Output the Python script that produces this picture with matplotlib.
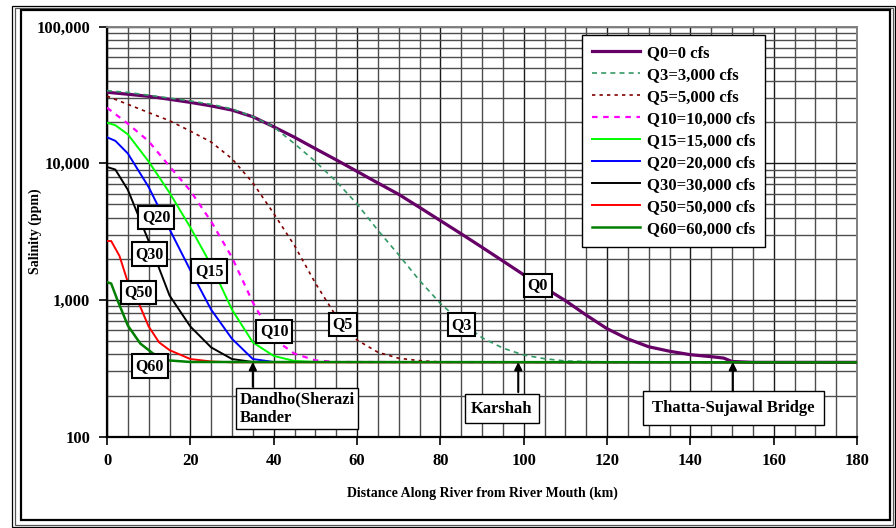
import matplotlib.pyplot as plt
from matplotlib.patches import Rectangle
from matplotlib.ticker import LogLocator, FuncFormatter, MultipleLocator, NullFormatter

plt.rcParams['font.family'] = 'Liberation Serif'
plt.rcParams['font.weight'] = 'bold'

# salinity profiles: distance (km) and salinity (ppm)
km_q0 = [0, 5, 10, 15, 20, 25, 30, 35, 40, 45, 50, 55, 60, 65, 70, 75, 80, 85, 90, 95,
         100, 105, 110, 115, 120, 125, 130, 135, 140, 145, 148, 150, 155, 180]
sal_q0 = [33100, 32000, 30900, 29400, 27900, 26300, 24500, 21900, 18500, 15500, 12800,
          10600, 8730, 7180, 5930, 4760, 3810, 3050, 2430, 1930, 1530, 1230, 990, 776,
          617, 519, 455, 422, 398, 385, 376, 355, 350, 350]

km_q3 = [0, 5, 10, 15, 20, 25, 30, 35, 40, 45, 50, 55, 60, 65, 70, 75, 80, 85, 90, 95,
         100, 105, 110, 120, 180]
sal_q3 = [34000, 33000, 31500, 30000, 28600, 27000, 25000, 22000, 18500, 13900, 10300,
          7380, 5050, 3240, 2140, 1390, 945, 690, 530, 445, 396, 372, 358, 352, 350]

km_q5 = [0, 5, 10, 15, 20, 25, 30, 35, 40, 45, 50, 55, 60, 65, 70, 75, 80, 180]
sal_q5 = [31000, 27000, 23500, 20500, 17200, 14300, 10800, 7200, 4300, 2500, 1330, 760,
          510, 415, 375, 360, 352, 350]

km_q10 = [0, 5, 10, 15, 20, 25, 30, 35, 40, 45, 50, 55, 180]
sal_q10 = [25500, 19500, 14500, 9500, 6300, 3750, 2050, 960, 520, 405, 362, 352, 350]

km_q15 = [0, 2, 5, 10, 15, 20, 25, 30, 35, 40, 45, 50, 180]
sal_q15 = [19800, 19000, 16300, 10300, 6100, 3400, 1800, 850, 490, 390, 358, 352, 350]

km_q20 = [0, 2, 5, 10, 15, 20, 25, 30, 35, 40, 180]
sal_q20 = [15500, 14600, 11800, 6700, 3300, 1650, 850, 520, 370, 352, 350]

km_q30 = [0, 2, 5, 10, 15, 20, 25, 30, 35, 180]
sal_q30 = [9400, 9000, 6400, 2700, 1080, 640, 450, 370, 352, 350]

km_q50 = [0, 1, 3, 5, 7, 10, 12.5, 15, 20, 25, 30, 180]
sal_q50 = [2700, 2700, 2100, 1350, 1050, 640, 490, 430, 370, 355, 350, 350]

km_q60 = [0, 1, 2.5, 5, 8, 11, 14, 20, 180]
sal_q60 = [1350, 1320, 1000, 650, 480, 407, 363, 352, 350]

labels = ['Q0=0 cfs', 'Q3=3,000 cfs', 'Q5=5,000 cfs', 'Q10=10,000 cfs', 'Q15=15,000 cfs',
          'Q20=20,000 cfs', 'Q30=30,000 cfs', 'Q50=50,000 cfs', 'Q60=60,000 cfs']

fig = plt.figure(figsize=(8.96, 5.28), dpi=100)
W, H = 896.0, 528.0


def frame(x0, y0, x1, y1, lw, color='black'):
    # rectangle given in image pixels (top-left origin)
    r = Rectangle((x0 / W, 1 - y1 / H), (x1 - x0) / W, (y1 - y0) / H,
                  transform=fig.transFigure, fill=False, lw=lw, edgecolor=color)
    fig.add_artist(r)


frame(12, 5.5, 895, 526.5, 0.9)
frame(14.5, 8, 893, 524.5, 0.9, '#555555')
frame(21, 10, 890, 520, 1.6)

ax = fig.add_axes([107 / W, 1 - 436.7 / H, 750 / W, 410.1 / H])

styles = [
    ('#660066', '-', 2.3),
    ('#339966', (0, (3, 2.5)), 1.2),
    ('#800000', (0, (2, 2.5)), 1.2),
    ('#ff00ff', (0, (2.5, 2.5)), 1.6),
    ('#00ff00', '-', 1.4),
    ('#0000ff', '-', 1.4),
    ('black', '-', 1.4),
    ('#ff0000', '-', 1.4),
    ('#008000', '-', 1.8),
]
kms = [km_q0, km_q3, km_q5, km_q10, km_q15, km_q20, km_q30, km_q50, km_q60]
sals = [sal_q0, sal_q3, sal_q5, sal_q10, sal_q15, sal_q20, sal_q30, sal_q50, sal_q60]

for i in range(len(labels)):
    c, ls, lw = styles[i]
    ax.plot(kms[i], sals[i], color=c, linestyle=ls, lw=lw, label=labels[i], zorder=3)

ax.set_yscale('log')
ax.set_xlim(0, 180)
ax.set_ylim(100, 100000)
ax.xaxis.set_major_locator(MultipleLocator(20))
ax.xaxis.set_minor_locator(MultipleLocator(5))
ax.yaxis.set_major_locator(LogLocator(base=10))
ax.yaxis.set_minor_locator(LogLocator(base=10, subs=range(2, 10)))
ax.yaxis.set_minor_formatter(NullFormatter())
ax.yaxis.set_major_formatter(FuncFormatter(lambda v, p: '{:,.0f}'.format(v)))

ax.grid(which='major', color='#1a1a1a', lw=1.0, zorder=1)
ax.grid(which='minor', color='#4d4d4d', lw=1.0, zorder=1)
ax.set_axisbelow(True)
ax.tick_params(which='major', direction='out', length=6, width=1.2, labelsize=12, pad=6)
ax.tick_params(which='minor', length=0)
for t in ax.get_xticklabels() + ax.get_yticklabels():
    t.set_fontweight('bold')

ax.spines['left'].set_linewidth(1.6)
ax.spines['bottom'].set_linewidth(1.6)
ax.spines['top'].set_color('#808080')
ax.spines['right'].set_color('#808080')
ax.spines['top'].set_linewidth(1.4)
ax.spines['right'].set_linewidth(1.4)

ax.set_xlabel('Distance Along River from River Mouth (km)', fontsize=10, fontweight='bold')
ax.xaxis.set_label_coords(0.5, -(487 - 436.7) / 410.1)
ax.set_ylabel('Salinity (ppm)', fontsize=10, fontweight='bold')
ax.yaxis.set_label_coords(-(107 - 42) / 750, 0.5)

leg = ax.legend(loc='upper left', bbox_to_anchor=(0.633, 0.98), borderaxespad=0,
                fancybox=False, edgecolor='black', framealpha=1, fontsize=12,
                handlelength=2.9, handletextpad=0.4, labelspacing=0.36, borderpad=0.6)
leg.get_frame().set_linewidth(1.0)
leg.set_zorder(6)

# curve tags
box = dict(boxstyle='square,pad=0.22', facecolor='white', edgecolor='black', lw=1.5)
tags = [('Q20', 11.8, 4010), ('Q30', 10.2, 2170), ('Q50', 7.5, 1135), ('Q60', 10.3, 329),
        ('Q15', 24.5, 1630), ('Q10', 40.1, 593), ('Q5', 56.6, 662), ('Q3', 85, 659),
        ('Q0', 103.4, 1282)]
for name, x, y in tags:
    ax.text(x, y, name, ha='center', va='center', fontsize=11.5, fontweight='bold',
            bbox=box, zorder=5)

# stations
ax.text(31.8, 160, 'Dandho(Sherazi\nBander', ha='left', va='center', fontsize=12,
        fontweight='bold', zorder=5, linespacing=1.2,
        bbox=dict(boxstyle='square,pad=0.2', facecolor='white', edgecolor='black', lw=1.0))
ax.text(94.8, 160, 'Karshah', ha='center', va='center', fontsize=12, fontweight='bold',
        zorder=5,
        bbox=dict(boxstyle='square,pad=0.4', facecolor='white', edgecolor='black', lw=1.0))
ax.text(150.3, 163, 'Thatta-Sujawal Bridge', ha='center', va='center', fontsize=12,
        fontweight='bold', zorder=5,
        bbox=dict(boxstyle='square,pad=0.55', facecolor='white', edgecolor='black', lw=1.0))

arrow = dict(arrowstyle='-|>', color='black', lw=1.5, mutation_scale=11, shrinkA=0, shrinkB=0)
ax.annotate('', xy=(35, 352), xytext=(35, 232), arrowprops=arrow, zorder=5)
ax.annotate('', xy=(98.7, 352), xytext=(98.7, 212), arrowprops=arrow, zorder=5)
ax.annotate('', xy=(150.2, 352), xytext=(150.2, 215), arrowprops=arrow, zorder=5)

fig.savefig('out.png', dpi=100)
